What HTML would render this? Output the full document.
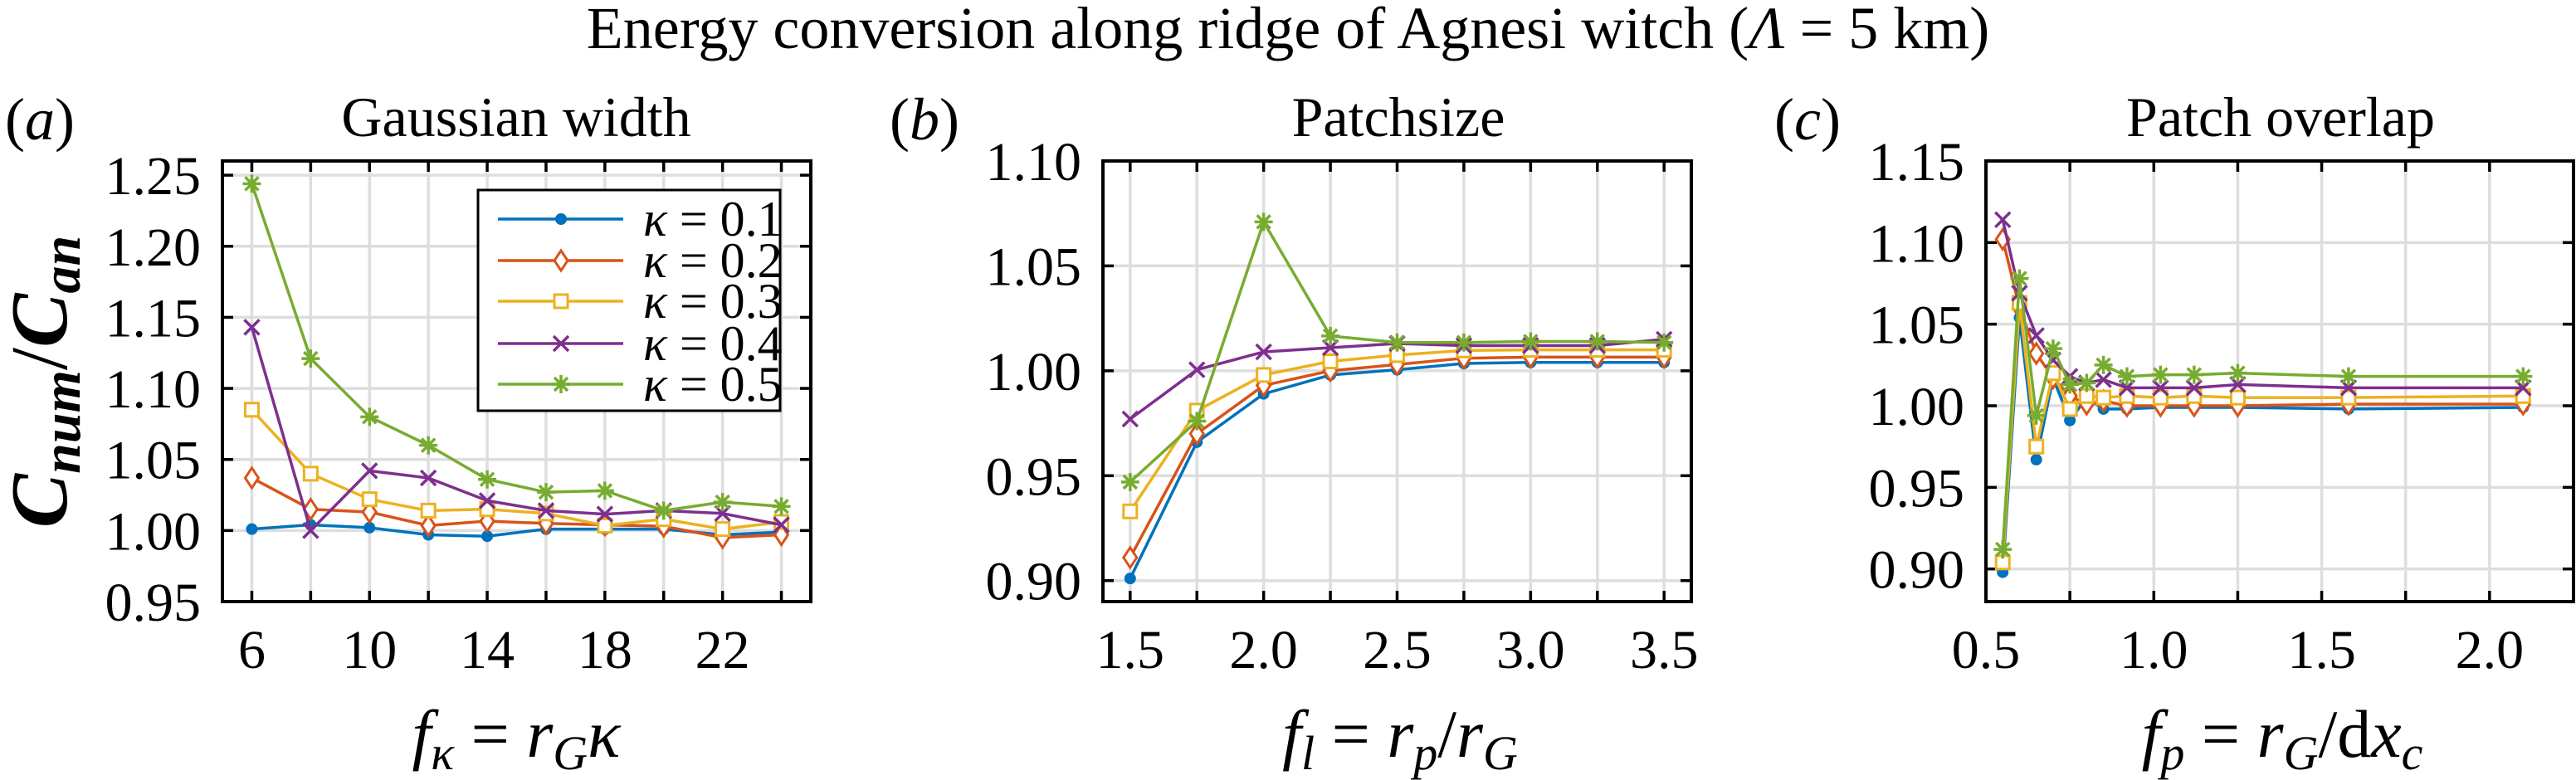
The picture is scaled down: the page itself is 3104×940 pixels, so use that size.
<!DOCTYPE html>
<html><head><meta charset="utf-8"><style>
html,body{margin:0;padding:0;background:#fff;}
svg{display:block;font-family:"Liberation Serif",serif;}
svg text{font-family:"Liberation Serif",serif;}
</style></head><body>
<svg id="fig" width="3104" height="940" viewBox="0 0 3104 940" xmlns="http://www.w3.org/2000/svg" font-family="Liberation Serif, serif">
<text x="1552" y="58" font-size="72" text-anchor="middle" font-family="Liberation Serif, serif">Energy conversion along ridge of Agnesi witch (<tspan font-style="italic">Λ</tspan> = 5 km)</text>
<g id="root"></g>
</svg>
<script>
const kappaLabels=["κ = 0.1","κ = 0.2","κ = 0.3","κ = 0.4","κ = 0.5"];
const colors=["#0072BD","#D95319","#EDB120","#7E2F8E","#77AC30"];
const markers=["dot","diamond","square","cross","star"];
// panel a
const aX=[6,8,10,12,14,16,18,20,22,24];
const aK1=[1.001,1.004,1.002,0.997,0.996,1.001,1.001,1.001,0.997,0.999];
const aK2=[1.037,1.015,1.013,1.0035,1.0066,1.005,1.004,1.003,0.995,0.997];
const aK3=[1.085,1.040,1.022,1.014,1.015,1.012,1.0035,1.008,1.001,1.006];
const aK4=[1.143,1.000,1.042,1.037,1.021,1.014,1.0115,1.014,1.012,1.004];
const aK5=[1.244,1.121,1.080,1.060,1.036,1.027,1.028,1.014,1.020,1.017];
const aXTicks=[6,10,14,18,22];
const aYTicks=[0.95,1.00,1.05,1.10,1.15,1.20,1.25];
// panel b
const bX=[1.5,1.75,2.0,2.25,2.5,2.75,3.0,3.25,3.5];
const bK1=[0.901,0.966,0.989,0.998,1.0005,1.0035,1.004,1.004,1.004];
const bK2=[0.911,0.970,0.993,1.000,1.003,1.006,1.0065,1.0065,1.0065];
const bK3=[0.933,0.981,0.998,1.0045,1.0075,1.0097,1.010,1.010,1.010];
const bK4=[0.977,1.0005,1.009,1.011,1.013,1.012,1.012,1.012,1.015];
const bK5=[0.947,0.976,1.071,1.0166,1.0135,1.0135,1.014,1.014,1.0135];
const bXTicks=[1.5,2.0,2.5,3.0,3.5];
const bYTicks=[0.90,0.95,1.00,1.05,1.10];
// panel c
const cX=[0.55,0.60,0.65,0.70,0.75,0.80,0.85,0.92,1.02,1.12,1.25,1.58,2.10];
const cK1=[0.898,1.054,0.967,1.017,0.991,1.005,0.998,0.998,0.999,0.999,0.999,0.998,0.999];
const cK2=[1.102,1.060,1.032,1.017,1.006,1.001,1.003,1.000,1.000,1.000,1.000,1.001,1.001];
const cK3=[0.904,1.063,0.975,1.020,0.998,1.006,1.005,1.006,1.005,1.006,1.005,1.005,1.006];
const cK4=[1.114,1.069,1.043,1.028,1.018,1.014,1.016,1.011,1.011,1.011,1.013,1.011,1.011];
const cK5=[0.912,1.078,0.994,1.035,1.013,1.014,1.025,1.018,1.019,1.019,1.020,1.018,1.018];
const cXTicks=[0.5,1.0,1.5,2.0];
const cYTicks=[0.90,0.95,1.00,1.05,1.10,1.15];

const NS="http://www.w3.org/2000/svg";
const root=document.getElementById('root');
const FF="Liberation Serif, serif";
function mk(tag,attrs,parent){const e=document.createElementNS(NS,tag);for(const k in attrs)e.setAttribute(k,attrs[k]);if(tag==='text')e.setAttribute('font-family',FF);(parent||root).appendChild(e);return e;}

function marker(g,type,x,y,c){
  let e;
  if(type==="dot"){e=mk('circle',{cx:x,cy:y,r:7,fill:c},g);}
  else if(type==="diamond"){e=mk('path',{d:`M${x} ${y-12}L${x+8} ${y}L${x} ${y+12}L${x-8} ${y}Z`,fill:'#fff',stroke:c,'stroke-width':3},g);}
  else if(type==="square"){e=mk('rect',{x:x-8,y:y-8,width:16,height:16,fill:'#fff',stroke:c,'stroke-width':3},g);}
  else if(type==="cross"){e=mk('path',{d:`M${x-9} ${y-9}L${x+9} ${y+9}M${x-9} ${y+9}L${x+9} ${y-9}`,stroke:c,'stroke-width':3.5},g);}
  else {e=mk('path',{d:`M${x-11} ${y}L${x+11} ${y}M${x} ${y-11}L${x} ${y+11}M${x-8} ${y-8}L${x+8} ${y+8}M${x-8} ${y+8}L${x+8} ${y-8}`,stroke:c,'stroke-width':3.5},g);}
  
  
}

function panel(o){
  const g=mk('g',{});
  
  
  const sx=v=>o.L+(v-o.x0)/(o.x1-o.x0)*(o.R-o.L);
  const sy=v=>o.B-(v-o.y0)/(o.y1-o.y0)*(o.B-o.T);
  for(const v of o.gridX){const l=mk('line',{x1:sx(v),x2:sx(v),y1:o.T,y2:o.B,stroke:'#dedede','stroke-width':3.5},g);}
  for(const v of o.yTicks){const l=mk('line',{x1:o.L,x2:o.R,y1:sy(v),y2:sy(v),stroke:'#dedede','stroke-width':3.5},g);}
  for(const v of o.gridX){
    const t1=mk('line',{x1:sx(v),x2:sx(v),y1:o.B,y2:o.B-13,stroke:'#000','stroke-width':3.5},g);
    const t2=mk('line',{x1:sx(v),x2:sx(v),y1:o.T,y2:o.T+13,stroke:'#000','stroke-width':3.5},g);
  }
  for(const v of o.yTicks){
    const t1=mk('line',{x1:o.L,x2:o.L+13,y1:sy(v),y2:sy(v),stroke:'#000','stroke-width':3.5},g);
    const t2=mk('line',{x1:o.R,x2:o.R-13,y1:sy(v),y2:sy(v),stroke:'#000','stroke-width':3.5},g);
    const tl=mk('text',{x:o.L-26,y:sy(v)+23,'font-size':66,'text-anchor':'end'},g);tl.textContent=v.toFixed(2);
    
  }
  for(const v of o.xTicks){
    const tl=mk('text',{x:sx(v),y:o.B+80,'font-size':66,'text-anchor':'middle'},g);tl.textContent=o.fmt(v);
    
  }
  o.series.forEach((ys,i)=>{
    const sg=mk('g',{},g);
    
    
    const pts=o.x.map((xv,j)=>sx(xv)+','+sy(ys[j])).join(' ');
    const pl=mk('polyline',{points:pts,fill:'none',stroke:colors[i],'stroke-width':3.5,'stroke-linejoin':'round'},sg);
    
    o.x.forEach((xv,j)=>marker(sg,markers[i],sx(xv),sy(ys[j]),colors[i]));
  });
  const box=mk('rect',{x:o.L,y:o.T,width:o.R-o.L,height:o.B-o.T,fill:'none',stroke:'#000','stroke-width':4},g);
  
  const tt=mk('text',{x:o.titleX,y:164,'font-size':68,'text-anchor':'middle'},g);tt.textContent=o.title;
  
  const pl=mk('text',{x:o.labX,y:168,'font-size':72},g);
  pl.innerHTML='(<tspan font-style="italic">'+o.lab+'</tspan>)';
  
  const xl=mk('text',{x:o.xlabX,y:912,'font-size':82,'text-anchor':'middle','font-style':'italic'},g);
  xl.innerHTML=o.xlab;
  
  return {sx,sy,g};
}
const range=(a,b,s)=>{const r=[];for(let v=a;v<=b+1e-9;v+=s)r.push(+v.toFixed(4));return r;};

panel({name:'panel-a-gaussian-width',L:268,R:977,T:194,B:725,x0:5,x1:25,y0:0.95,y1:1.26,
  gridX:range(6,24,2),xTicks:aXTicks,yTicks:aYTicks,fmt:v=>String(v),x:aX,series:[aK1,aK2,aK3,aK4,aK5],
  title:'Gaussian width',titleX:622,lab:'a',labX:6,xlabX:622,
  xlab:'f<tspan font-size="58" dy="15">κ</tspan><tspan dy="-15" font-style="normal"> = </tspan>r<tspan font-size="58" dy="15">G</tspan><tspan dy="-15">κ</tspan>'});
panel({name:'panel-b-patchsize',L:1329,R:2038,T:194,B:725,x0:1.398,x1:3.602,y0:0.89,y1:1.10,
  gridX:range(1.5,3.5,0.25),xTicks:bXTicks,yTicks:bYTicks,fmt:v=>v.toFixed(1),x:bX,series:[bK1,bK2,bK3,bK4,bK5],
  title:'Patchsize',titleX:1685,lab:'b',labX:1072,xlabX:1687,
  xlab:'f<tspan font-size="58" dy="15">l</tspan><tspan dy="-15" font-style="normal"> = </tspan>r<tspan font-size="58" dy="15">p</tspan><tspan dy="-15" font-style="normal">/</tspan>r<tspan font-size="58" dy="15">G</tspan>'});
panel({name:'panel-c-patch-overlap',L:2393,R:3101,T:194,B:725,x0:0.5,x1:2.25,y0:0.88,y1:1.15,
  gridX:range(0.75,2.0,0.25),xTicks:cXTicks,yTicks:cYTicks,fmt:v=>v.toFixed(1),x:cX,series:[cK1,cK2,cK3,cK4,cK5],
  title:'Patch overlap',titleX:2748,lab:'c',labX:2138,xlabX:2750,
  xlab:'f<tspan font-size="58" dy="15">p</tspan><tspan dy="-15" font-style="normal"> = </tspan>r<tspan font-size="58" dy="15">G</tspan><tspan dy="-15" font-style="normal">/d</tspan>x<tspan font-size="58" dy="15">c</tspan>'});

const yl=mk('text',{transform:'translate(80,460) rotate(-90)','font-size':98,'text-anchor':'middle','font-style':'italic','font-weight':'bold'});
yl.innerHTML='C<tspan font-size="66" dy="16">num</tspan><tspan dy="-16" font-weight="normal" font-style="normal">/</tspan>C<tspan font-size="66" dy="16">an</tspan>';



const lg=mk('g',{});


const lb=mk('rect',{x:576,y:229,width:364,height:266,fill:'#fff',stroke:'#000','stroke-width':3},lg);


const legY=[264,314,363,414,463];
kappaLabels.forEach((t,i)=>{
  const e=mk('g',{},lg);
  
  
  mk('line',{x1:600,x2:751,y1:legY[i],y2:legY[i],stroke:colors[i],'stroke-width':3.5},e);
  marker(e,markers[i],676,legY[i],colors[i]);
  const tx=mk('text',{x:775,y:legY[i]+20,'font-size':60},e);
  tx.innerHTML='<tspan font-style="italic">κ</tspan> = '+t.split('= ')[1];
});
</script>
</body></html>
